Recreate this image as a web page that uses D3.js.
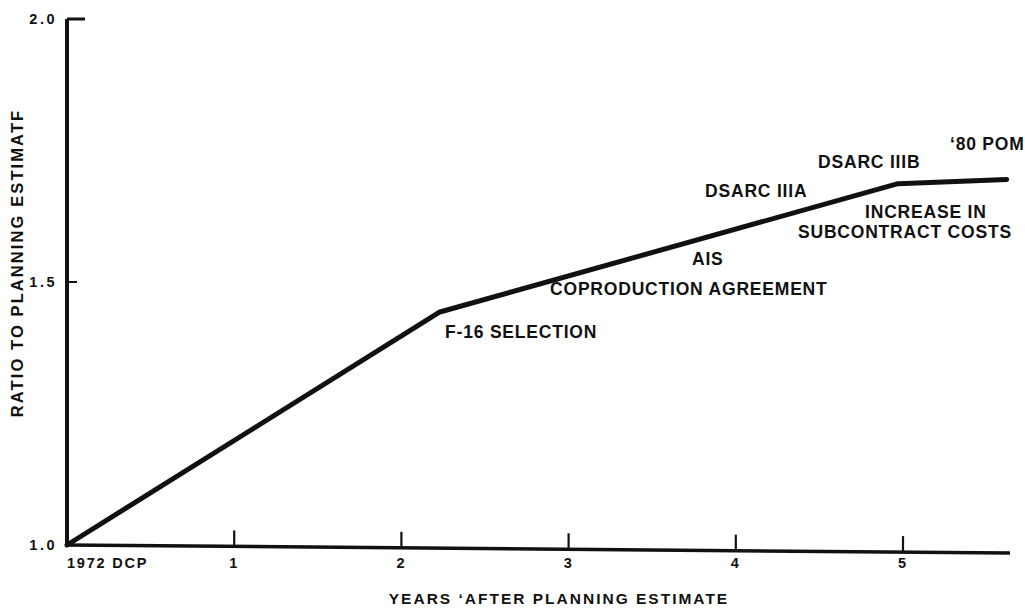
<!DOCTYPE html>
<html>
<head>
<meta charset="utf-8">
<script src="https://cdn.jsdelivr.net/npm/d3@7"></script>
<style>
  body { margin: 0; background: #fff; }
  text { font-family: "Liberation Sans", Arial, sans-serif; font-weight: bold; fill: #111; }
</style>
</head>
<body>
<script>
// ratio to planning estimate over years
var years = [0, 2.23, 4.97, 5.62];
var ratios = [1.0, 1.443, 1.687, 1.695];

var xTicks = [0, 1, 2, 3, 4, 5];
var xTickLabels = ["1972 DCP", "1", "2", "3", "4", "5"];
var yTicks = [1.0, 1.5, 2.0];

// annotations: text, year, ratio (baseline-left)
var noteText = ["F-16 SELECTION", "COPRODUCTION AGREEMENT", "AIS", "DSARC IIIA", "DSARC IIIB", "\u201880 POM", "INCREASE IN", "SUBCONTRACT COSTS"];
var noteYear = [2.261, 2.889, 3.738, 3.816, 4.492, 5.281, 4.773, 4.372];
var noteRatio = [1.3935, 1.4753, 1.5323, 1.6616, 1.7167, 1.751, 1.6217, 1.5837];

var width = 1025, height = 612;

var x = d3.scaleLinear().domain([0, 5]).range([67, 903]);
var y = d3.scaleLinear().domain([1, 2]).range([545, 19]);

var svg = d3.select("body").append("svg")
    .attr("width", width)
    .attr("height", height);

// axes lines
svg.append("line")
    .attr("x1", x(0)).attr("x2", x(0))
    .attr("y1", y(2)).attr("y2", y(1) + 2)
    .attr("stroke", "#111").attr("stroke-width", 4);

svg.append("line")
    .attr("x1", x(0) - 2).attr("x2", x(5.64))
    .attr("y1", y(1)).attr("y2", y(1) + 8)
    .attr("stroke", "#111").attr("stroke-width", 3.5);

// y ticks go inward
svg.append("line")
    .attr("x1", x(0)).attr("x2", x(0) + 18)
    .attr("y1", y(2)).attr("y2", y(2))
    .attr("stroke", "#111").attr("stroke-width", 3);
svg.append("line")
    .attr("x1", x(0)).attr("x2", x(0) + 10)
    .attr("y1", y(1.5)).attr("y2", y(1.5))
    .attr("stroke", "#111").attr("stroke-width", 2);

svg.selectAll(".ytl").data(yTicks).enter().append("text")
    .attr("x", x(0) - 10)
    .attr("y", d => y(d) + 5)
    .attr("text-anchor", "end")
    .attr("font-size", 14.5)
    .style("letter-spacing", "2.5px")
    .text(d => d.toFixed(1));

// x ticks go up
var slope = 8 / (x(5.64) - x(0));
svg.selectAll(".xt").data(xTicks.slice(1)).enter().append("line")
    .attr("x1", d => x(d)).attr("x2", d => x(d))
    .attr("y1", d => y(1) + (x(d) - x(0)) * slope)
    .attr("y2", d => y(1) + (x(d) - x(0)) * slope - 16)
    .attr("stroke", "#111").attr("stroke-width", 2.2);

svg.selectAll(".xtl").data(xTicks).enter().append("text")
    .attr("x", d => x(d))
    .attr("y", 568)
    .attr("text-anchor", d => d === 0 ? "start" : "middle")
    .attr("font-size", 14.5)
    .style("letter-spacing", "1.8px")
    .text((d, i) => xTickLabels[i]);

// axis titles
svg.append("text")
    .attr("x", 559).attr("y", 604)
    .attr("text-anchor", "middle")
    .attr("font-size", 15.5)
    .style("letter-spacing", "2px")
    .text("YEARS \u02BBAFTER PLANNING ESTIMATE");

svg.append("text")
    .attr("transform", "translate(23,263) rotate(-90)")
    .attr("text-anchor", "middle")
    .attr("font-size", 16.5)
    .style("letter-spacing", "2.1px")
    .text("RATIO TO PLANNING ESTIMATF");

// the cost line
var line = d3.line()
    .x((d, i) => x(years[i]))
    .y(d => y(d));

svg.append("path")
    .datum(ratios)
    .attr("d", line)
    .attr("fill", "none")
    .attr("stroke", "#111")
    .attr("stroke-width", 5)
    .attr("stroke-linejoin", "round")
    .attr("stroke-linecap", "round");

// notes
svg.selectAll(".note").data(noteText).enter().append("text")
    .attr("x", (d, i) => x(noteYear[i]))
    .attr("y", (d, i) => y(noteRatio[i]))
    .attr("font-size", 17.5)
    .style("letter-spacing", "0.8px")
    .text(d => d);
</script>
</body>
</html>
